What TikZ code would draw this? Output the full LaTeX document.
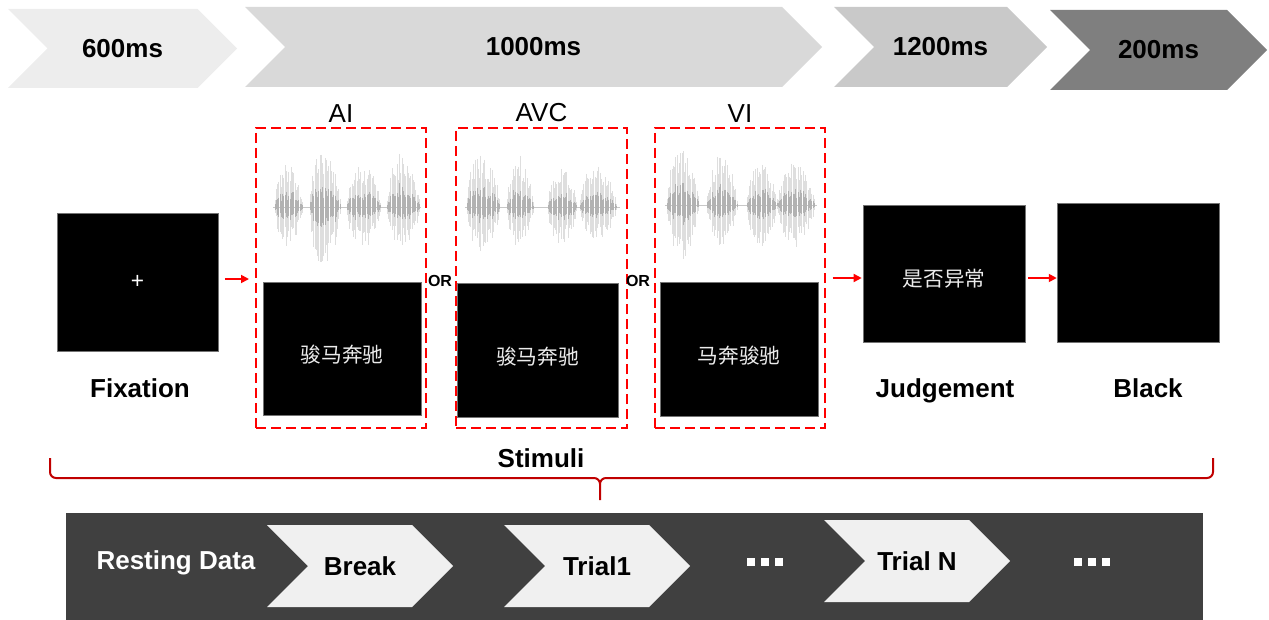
\documentclass[tikz,border=0pt]{standalone}
\usepackage{fontspec}
\setmainfont{Liberation Sans}
\newfontfamily\cjk{Noto Sans CJK SC}
\usetikzlibrary{positioning,arrows.meta,fit,calc}
\definecolor{pRed}{HTML}{FF0000}
\definecolor{pBrace}{HTML}{C00000}
\definecolor{pBar}{HTML}{404040}
\definecolor{pGreyA}{HTML}{EDEDED}
\definecolor{pGreyB}{HTML}{D9D9D9}
\definecolor{pGreyC}{HTML}{C9C9C9}
\definecolor{pGreyD}{HTML}{7F7F7F}
\definecolor{pLight}{HTML}{F0F0F0}
\tikzset{
  screen/.style={fill=black, draw=black!55, line width=0.4pt, inner sep=0pt},
  word/.style={text=white!92!black, font=\cjk\fontsize{15.5}{18}\selectfont,
               inner sep=0pt},
  cond/.style={draw=pRed, line width=1.5pt, dash pattern=on 7.5pt off 3.75pt,
               inner sep=0pt},
  tlabel/.style={font=\bfseries\fontsize{19.5}{22}\selectfont, inner sep=0pt},
  clabel/.style={font=\fontsize{19.5}{22}\selectfont, inner sep=0pt},
  orlbl/.style={font=\bfseries\fontsize{12}{14}\selectfont, inner sep=0pt},
  flow/.style={-{Triangle[length=6pt,width=6pt]}, draw=pRed, line width=1.3pt},
  brace/.style={draw=pBrace, line width=1.5pt, line join=round},
  wave/.style={line width=0.6pt},
  dots/.style={fill=white, minimum size=6pt, inner sep=0pt},
}
% chevron: name, x0, x1, top, bottom, fill, text
\newcommand{\chev}[7]{%
  \fill[#6] (#2,#4) -- ({#3-0.5*(#5-#4)},#4) -- (#3,{0.5*(#4+#5)})
    -- ({#3-0.5*(#5-#4)},#5) -- (#2,#5) -- ({#2+0.5*(#5-#4)},{0.5*(#4+#5)}) -- cycle;
  \node[tlabel] (#1) at ({0.5*(#2+#3)},{0.5*(#4+#5)}) {#7};}
% one syllable of the waveform: x0, x1, baseline, up, down
\newcommand{\burst}[5]{%
  \pgfmathtruncatemacro{\bn}{(#2-#1)/1.25}
  \foreach \k in {0,...,\bn}{
    \pgfmathsetmacro{\bx}{#1+\k*1.25}
    \pgfmathsetmacro{\bt}{(\k+0.5)/(\bn+1)}
    \pgfmathsetmacro{\benv}{(sin(180*\bt))^0.6*(1-0.25*\bt)}
    \pgfmathsetmacro{\bup}{#4*\benv*(0.5+0.5*rnd)}
    \pgfmathsetmacro{\bdn}{#5*\benv*(0.5+0.5*rnd)}
    \draw[wave, draw=black!13] (\bx,{#3-\bup}) -- (\bx,{#3+\bdn});
    \draw[wave, draw=black!30] (\bx,{#3-0.45*\bup*(0.6+0.4*rnd)})
      -- (\bx,{#3+0.4*\bdn*(0.6+0.4*rnd)});
  }}

\begin{document}
\begin{tikzpicture}[x=0.75pt, y=-0.75pt]
\useasboundingbox (0,0) rectangle (1269,620);
\pgfmathsetseed{12}

%% time line
\chev{c600}{8}{237}{9}{88}{pGreyA}{600ms}
\chev{c1000}{245}{822}{7}{87}{pGreyB}{1000ms}
\chev{c1200}{834}{1047}{7}{87}{pGreyC}{1200ms}
\chev{c200}{1050}{1267}{10}{90}{pGreyD}{200ms}

%% fixation
\node[screen, fit={(57,213) (218,351)}] (fix) {};
\node[word, text=white, font=\fontsize{17}{17}\selectfont] (cross) at (fix.center) {+};
\node[tlabel] (fixlbl) at (140,388) {Fixation};

%% the three conditions
\node[cond, fit={(256,128) (426,428)}] (ai) {};
\node[cond, fit={(456,128) (627,428)}] (avc) {};
\node[cond, fit={(655,128) (825,428)}] (vi) {};
\node[clabel, above=3pt of ai] (ailbl) {AI};
\node[clabel, above=4pt of avc] (avclbl) {AVC};
\node[clabel, above=3pt of vi] (vilbl) {VI};

% waveforms
\draw[line width=0.4pt, draw=black!22] (273,207) -- (421,207);
\burst{275}{303}{207}{50}{45}
\burst{310}{341}{207}{69}{70}
\burst{347}{381}{207}{49}{48}
\burst{387}{420}{207}{62}{45}
\draw[line width=0.4pt, draw=black!22] (465,207) -- (620,207);
\burst{467}{500}{207}{65}{55}
\burst{507}{534}{207}{59}{45}
\burst{548}{577}{207}{45}{45}
\burst{580}{617}{207}{50}{38}
\draw[line width=0.4pt, draw=black!22] (665,205) -- (817,205);
\burst{667}{699}{205}{63}{63}
\burst{707}{738}{205}{57}{47}
\burst{747}{777}{205}{48}{47}
\burst{778}{815}{205}{50}{50}

\node[screen, fit={(263,282) (421,415)}] (aiscr) {};
\node[screen, fit={(457,283) (618,417)}] (avcscr) {};
\node[screen, fit={(660,282) (818,416)}] (viscr) {};
\node[word] (aiwd) at ([yshift=-4.9pt]aiscr.center) {骏马奔驰};
\node[word] (avcwd) at ([yshift=-4.9pt]avcscr.center) {骏马奔驰};
\node[word] (viwd) at ([yshift=-4.9pt]viscr.center) {马奔骏驰};
\node[orlbl] (or1) at (440,281) {OR};
\node[orlbl] (or2) at (638,281) {OR};

%% judgement and black
\node[screen, fit={(863,205) (1025,342)}] (judge) {};
\node[word] (judgewd) at ([yshift=-4.1pt]judge.center) {是否异常};
\node[screen, fit={(1057,203) (1219,342)}] (blk) {};
\node[tlabel] (judgelbl) at (945,391) {Judgement};
\node[tlabel] (blklbl) at (1148,388) {Black};

%% flow
\draw[flow, shorten <=5pt, shorten >=4.5pt]
  ([yshift=2.25pt]fix.east) -- ([yshift=2.25pt]fix.east -| ai.west);
\draw[flow, shorten <=5pt, shorten >=0.8pt] (vi.east) -- (vi.east -| judge.west);
\draw[flow, shorten <=2.2pt] (judge.east |- vi.east) -- (blk.west |- vi.east);

%% one trial
\node[tlabel] (stim) at (541,458) {Stimuli};
\draw[brace] (50,458) -- (50,472) to[out=-90,in=180] (56,478) -- (594,478)
  to[out=0,in=90] (600,484) -- (600,500);
\draw[brace] (600,484) to[out=90,in=180] (606,478) -- (1207,478)
  to[out=0,in=-90] (1213,472) -- (1213,458);

%% the session
\fill[pBar] (66,513) rectangle (1203,620);
\node[tlabel, text=white] (rest) at (176,563) {Resting Data};
\chev{brk}{267}{453}{525}{607}{pLight}{Break}
\chev{trialA}{504}{690}{525}{607}{pLight}{Trial1}
\chev{trialN}{824}{1010}{520}{602}{pLight}{Trial N}
\foreach \dx [count=\i] in {-14,0,14}
  \node[dots] (dA\i) at ({765+\dx},562) {};
\foreach \dx [count=\i] in {-14,0,14}
  \node[dots] (dB\i) at ({1092+\dx},562) {};

\end{tikzpicture}
\end{document}
